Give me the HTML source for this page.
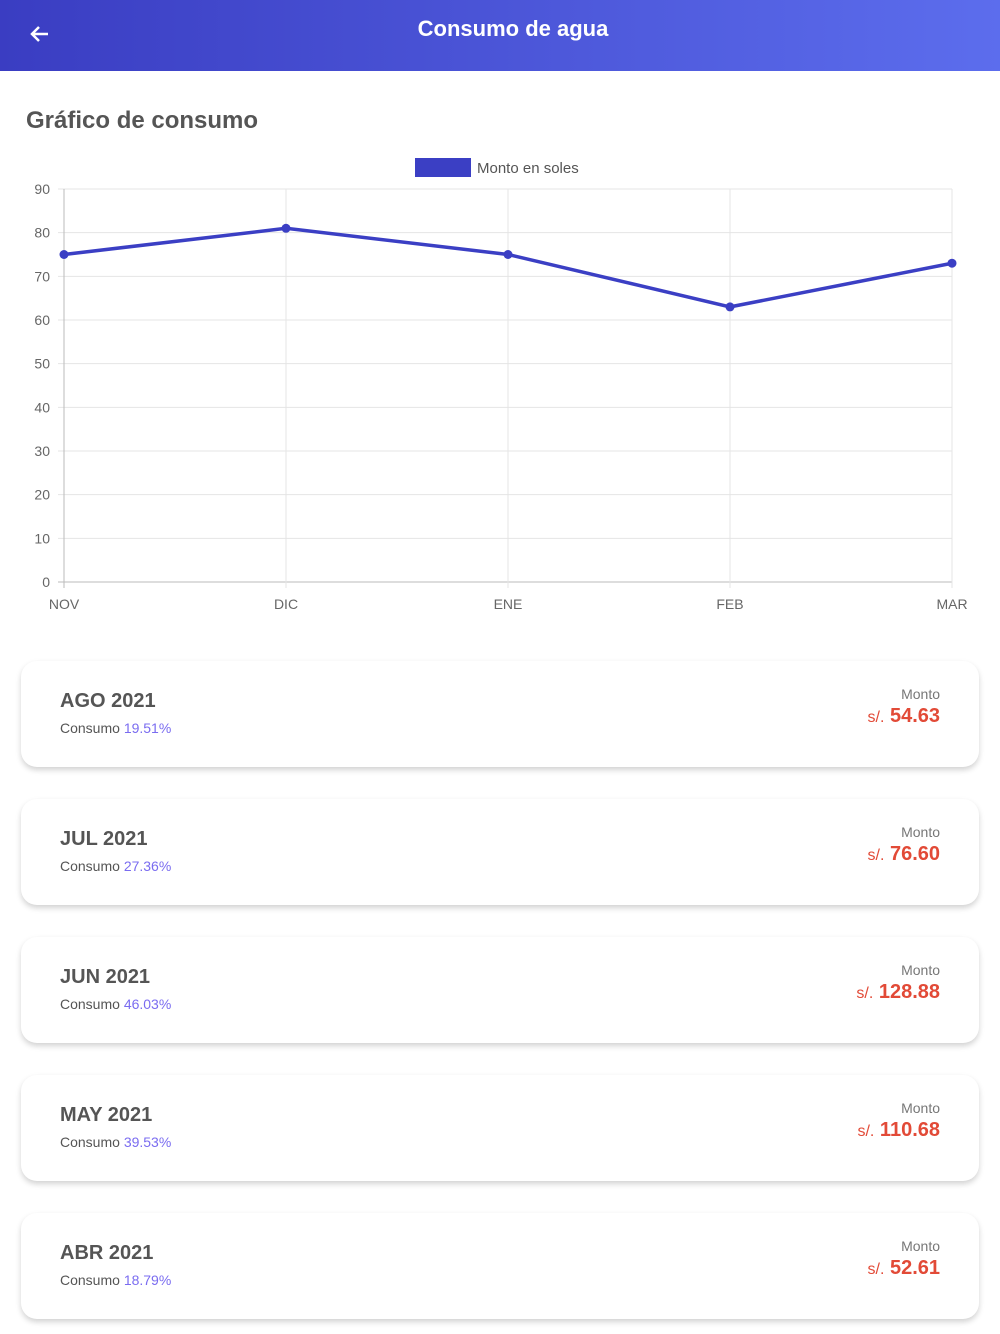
<!DOCTYPE html>
<html><head><meta charset="utf-8"><style>
*{margin:0;padding:0;box-sizing:border-box}
body{width:1000px;height:1334px;background:#fff;font-family:"Liberation Sans",sans-serif;position:relative;overflow:hidden}
.hdr{position:absolute;left:0;top:0;width:1000px;height:71px;background:linear-gradient(90deg,#3a3dc2,#5c6ded)}
.hdr h1{position:absolute;left:0;width:1026px;top:16px;text-align:center;color:#fff;font-size:22px;font-weight:bold}
.back{position:absolute;left:28px;top:22px}
.ttl{position:absolute;left:26px;top:107px;font-size:24px;font-weight:bold;color:#555}
.card{position:absolute;left:21px;width:958px;height:106px;border-radius:16px;background:#fff;box-shadow:0 3px 6px rgba(0,0,0,0.18)}
.card .m{position:absolute;left:39px;top:29px;font-size:20px;font-weight:bold;color:#555}
.card .c{position:absolute;left:39px;top:59px;font-size:14px;color:#555}
.card .c span{color:#7a6cf0}
.card .l{position:absolute;right:39px;top:25px;font-size:14px;color:#777}
.card .v{position:absolute;right:39px;top:44px;font-size:20px;font-weight:bold;color:#e24a37;white-space:nowrap}
.card .v small{font-size:16px;font-weight:normal}
</style></head><body>
<div class="hdr">
<svg class="back" width="24" height="24" viewBox="0 0 24 24"><path d="M20 12H4M11 5l-7 7 7 7" stroke="#fff" stroke-width="2.5" fill="none"/></svg>
<h1>Consumo de agua</h1>
</div>
<div class="ttl">Gráfico de consumo</div>
<svg id="chart" width="1000" height="640" style="position:absolute;left:0;top:0"></svg>
<div id="cards"></div>
<script>
const categories=["NOV","DIC","ENE","FEB","MAR"];
const values=[75,81,75,63,73];
const yTicks=[0,10,20,30,40,50,60,70,80,90];
const months=["AGO 2021","JUL 2021","JUN 2021","MAY 2021","ABR 2021"];
const consumos=["19.51%","27.36%","46.03%","39.53%","18.79%"];
const montos=["54.63","76.60","128.88","110.68","52.61"];
const NS="http://www.w3.org/2000/svg",svg=document.getElementById('chart');
const x0=64,x1=952,y0=582,y1=189;
const xs=i=>x0+(x1-x0)*i/(categories.length-1);
const ys=v=>y0-(y0-y1)*v/90;
function el(t,a,p){const e=document.createElementNS(NS,t);for(const k in a)e.setAttribute(k,a[k]);(p||svg).appendChild(e);return e;}
yTicks.forEach(t=>{const g=el('line',{x1:x0-6,x2:x1,y1:ys(t),y2:ys(t),stroke:t===0?'#bbb':'#e5e5e5'});

const tx=el('text',{x:50,y:ys(t)+5,'text-anchor':'end','font-size':14,fill:'#666'});tx.textContent=t;
});
categories.forEach((c,i)=>{const g=el('line',{x1:xs(i),x2:xs(i),y1:y1,y2:y0+6,stroke:i===0?'#bbb':'#e5e5e5'});

const tx=el('text',{x:xs(i),y:609,'text-anchor':'middle','font-size':14,fill:'#666'});tx.textContent=c;
});
const pl=el('polyline',{points:values.map((v,i)=>xs(i)+','+ys(v)).join(' '),fill:'none',stroke:'#3b3fc4','stroke-width':3.5});

values.forEach((v,i)=>{const c=el('circle',{cx:xs(i),cy:ys(v),r:4.5,fill:'#3b3fc4'});
});
const lg=el('rect',{x:415,y:158,width:56,height:19,fill:'#3b3fc4'});

const lt=el('text',{x:477,y:173,'font-size':15,fill:'#555'});lt.textContent='Monto en soles';

const cc=document.getElementById('cards');
months.forEach((m,i)=>{const d=document.createElement('div');d.className='card';d.style.top=(661+138*i)+'px';


d.innerHTML='<div class="m">'+m+'</div><div class="c">Consumo <span>'+consumos[i]+'</span></div><div class="l">Monto</div><div class="v"><small>s/.</small> '+montos[i]+'</div>';
cc.appendChild(d);});
</script>
</body></html>
